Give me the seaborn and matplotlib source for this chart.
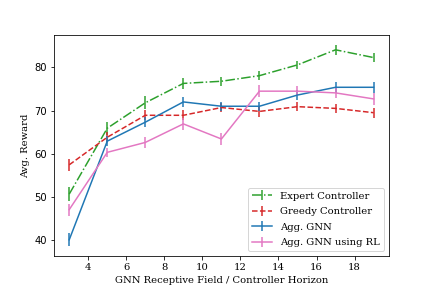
import matplotlib
matplotlib.use("Agg")
import matplotlib.pyplot as plt
import seaborn as sns

# receptive field / horizon
horizon = [3, 5, 7, 9, 11, 13, 15, 17, 19]

expert = [50.6, 65.9, 71.8, 76.3, 76.8, 78.1, 80.6, 84.1, 82.3]
expert_err = [1.6, 1.5, 1.5, 1.2, 1.1, 1.1, 1.0, 1.2, 1.1]

greedy = [57.4, 63.8, 68.9, 68.9, 70.7, 69.8, 70.9, 70.5, 69.5]
greedy_err = [1.4, 1.2, 1.2, 1.2, 1.1, 1.2, 1.1, 1.1, 1.2]

agg_gnn = [40.0, 62.9, 67.3, 72.0, 71.0, 71.0, 73.6, 75.4, 75.4]
agg_gnn_err = [1.5, 1.2, 1.1, 1.2, 1.1, 1.1, 1.1, 1.3, 1.3]

agg_rl = [47.0, 60.3, 62.6, 66.9, 63.4, 74.5, 74.5, 74.1, 72.7]
agg_rl_err = [1.4, 1.1, 1.3, 1.3, 1.3, 1.4, 1.2, 1.2, 1.4]

pal = sns.color_palette("tab10")
plt.rcParams["font.family"] = "DejaVu Serif"

fig, ax = plt.subplots(figsize=(6, 4), dpi=72)

ax.errorbar(horizon, expert, yerr=expert_err, color=pal[2], linestyle="-.", label="Expert Controller")
ax.errorbar(horizon, greedy, yerr=greedy_err, color=pal[3], linestyle="--", label="Greedy Controller")
ax.errorbar(horizon, agg_gnn, yerr=agg_gnn_err, color=pal[0], linestyle="-", label="Agg. GNN")
ax.errorbar(horizon, agg_rl, yerr=agg_rl_err, color=pal[6], linestyle="-", label="Agg. GNN using RL")

ax.set_xlabel("GNN Receptive Field / Controller Horizon")
ax.set_ylabel("Avg. Reward")
for t in ax.get_yticklabels():
    t.set_fontfamily("DejaVu Sans")
ax.legend(loc="lower right", labelspacing=0.65)

fig.savefig("out.png", dpi=72)
